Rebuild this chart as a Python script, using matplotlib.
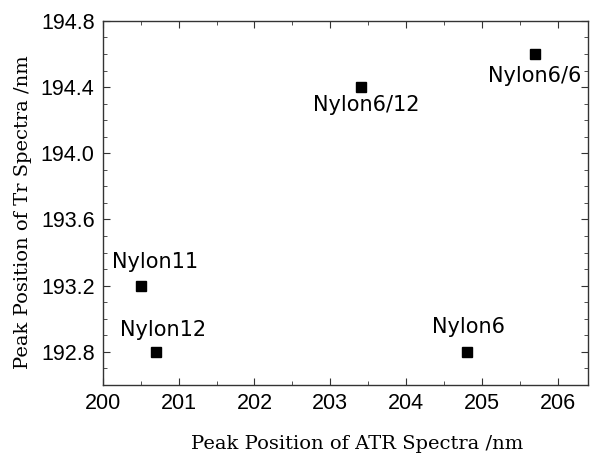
import matplotlib
matplotlib.use('Agg')
import matplotlib.pyplot as plt
from matplotlib.ticker import MultipleLocator

names = ['Nylon11', 'Nylon12', 'Nylon6/12', 'Nylon6/6', 'Nylon6']
atr_peak = [200.5, 200.7, 203.4, 205.7, 204.8]
tr_peak = [193.2, 192.8, 194.4, 194.6, 192.8]
# label offsets in points (dx, dy)
offsets = [(10, 17), (5, 16), (4, -13), (0, -16), (1, 18)]

fig = plt.figure(figsize=(5.91, 4.54), dpi=100)
ax = fig.add_axes([0.174, 0.152, 0.821, 0.802])

ax.plot(atr_peak, tr_peak, 's', color='black', markersize=7, linestyle='none')

for n, x, y, (dx, dy) in zip(names, atr_peak, tr_peak, offsets):
    ax.annotate(n, (x, y), xytext=(dx, dy), textcoords='offset points',
                ha='center', va='center', fontsize=15, family='DejaVu Sans')

ax.set_xlim(200, 206.4)
ax.set_ylim(192.6, 194.8)
ax.xaxis.set_major_locator(MultipleLocator(1))
ax.xaxis.set_minor_locator(MultipleLocator(0.5))
ax.yaxis.set_major_locator(MultipleLocator(0.4))
ax.yaxis.set_minor_locator(MultipleLocator(0.1))
ax.yaxis.set_major_formatter(plt.FormatStrFormatter('%.1f'))

ax.tick_params(which='both', direction='in', top=True, right=True, color='#333333')
ax.tick_params(which='major', length=5, labelsize=15.5, pad=6)
ax.tick_params(which='minor', length=3)
for lab in ax.get_xticklabels() + ax.get_yticklabels():
    lab.set_family('Liberation Sans')
for s in ax.spines.values():
    s.set_color('#333333')
    s.set_linewidth(1)

ax.set_xlabel('Peak Position of ATR Spectra /nm', family='DejaVu Serif', fontsize=14, labelpad=15)
ax.set_ylabel('Peak Position of Tr Spectra /nm', family='DejaVu Serif', fontsize=14, labelpad=6)
ax.xaxis.label.set_x(0.525)
ax.yaxis.label.set_y(0.475)

fig.savefig('out.png', dpi=100)
